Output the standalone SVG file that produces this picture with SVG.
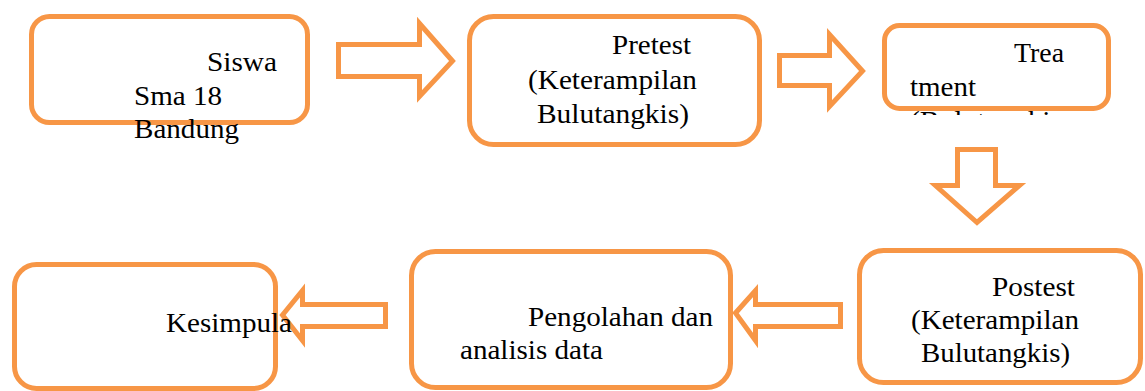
<svg xmlns="http://www.w3.org/2000/svg" width="1145" height="391" viewBox="0 0 1145 391">
<style>
.box{fill:#fff;stroke:#F79646;stroke-width:5}
.arr{fill:#fff;stroke:#F79646;stroke-width:5;stroke-linejoin:miter}
text{font-family:"Liberation Serif","Times New Roman",serif;font-size:28px;fill:#000}
</style>
<defs>
<clipPath id="clipT"><rect x="880" y="0" width="240" height="115"/></clipPath>
</defs>
<rect width="1145" height="391" fill="#fff"/>
<g id="connectors">
<polygon class="arr" points="338.5,44.5 419.5,44.5 419.5,23.5 452.5,61 419.5,96.5 419.5,76.5 338.5,76.5"/>
<polygon class="arr" points="779.5,55.5 829.5,55.5 829.5,34.5 862.5,71 829.5,106.5 829.5,85.5 779.5,85.5"/>
<polygon class="arr" points="957.5,149.5 995.5,149.5 995.5,185.5 1019.5,185.5 977,222.5 935.5,185.5 957.5,185.5"/>
<polygon class="arr" points="840.5,304.5 755.5,304.5 755.5,290.5 735.5,313 755.5,340.5 755.5,326.5 840.5,326.5"/>
<polygon class="arr" points="385.5,304.5 302.5,304.5 302.5,290.5 282.5,315 302.5,340.5 302.5,326.5 385.5,326.5"/>
</g>
<g id="node-siswa">
<rect class="box" x="31.5" y="16.5" width="276" height="106" rx="18"/>
<text x="207" y="71" textLength="70" lengthAdjust="spacingAndGlyphs">Siswa</text>
<text x="134" y="105" textLength="88" lengthAdjust="spacingAndGlyphs">Sma 18</text>
<text x="134" y="138" textLength="105" lengthAdjust="spacingAndGlyphs">Bandung</text>
</g>
<g id="node-pretest">
<rect class="box" x="469.5" y="16.5" width="290" height="128" rx="24"/>
<text x="612" y="54" textLength="79" lengthAdjust="spacingAndGlyphs">Pretest</text>
<text x="528" y="89" textLength="169" lengthAdjust="spacingAndGlyphs">(Keterampilan</text>
<text x="537" y="123" textLength="152" lengthAdjust="spacingAndGlyphs">Bulutangkis)</text>
</g>
<g id="node-treatment">
<rect class="box" x="884.5" y="25.5" width="224" height="83" rx="15"/>
<text x="1014" y="62" textLength="50" lengthAdjust="spacingAndGlyphs">Trea</text>
<text x="910" y="96" textLength="66" lengthAdjust="spacingAndGlyphs">tment</text>
<text x="910" y="130" clip-path="url(#clipT)" textLength="152" lengthAdjust="spacingAndGlyphs">(Bulutangkis</text>
</g>
<g id="node-postest">
<rect class="box" x="859.5" y="250.5" width="281" height="132" rx="24"/>
<text x="992" y="296" textLength="83" lengthAdjust="spacingAndGlyphs">Postest</text>
<text x="911" y="329" textLength="168" lengthAdjust="spacingAndGlyphs">(Keterampilan</text>
<text x="921" y="362" textLength="149" lengthAdjust="spacingAndGlyphs">Bulutangkis)</text>
</g>
<g id="node-pengolahan">
<rect class="box" x="411.5" y="251.5" width="319" height="136" rx="24"/>
<text x="528" y="326" textLength="185" lengthAdjust="spacingAndGlyphs">Pengolahan dan</text>
<text x="460" y="359" textLength="143" lengthAdjust="spacingAndGlyphs">analisis data</text>
</g>
<g id="node-kesimpulan">
<rect class="box" x="14.5" y="264.5" width="261" height="124" rx="22"/>
<text x="166" y="332" textLength="126" lengthAdjust="spacingAndGlyphs">Kesimpula</text>
</g>
</svg>
